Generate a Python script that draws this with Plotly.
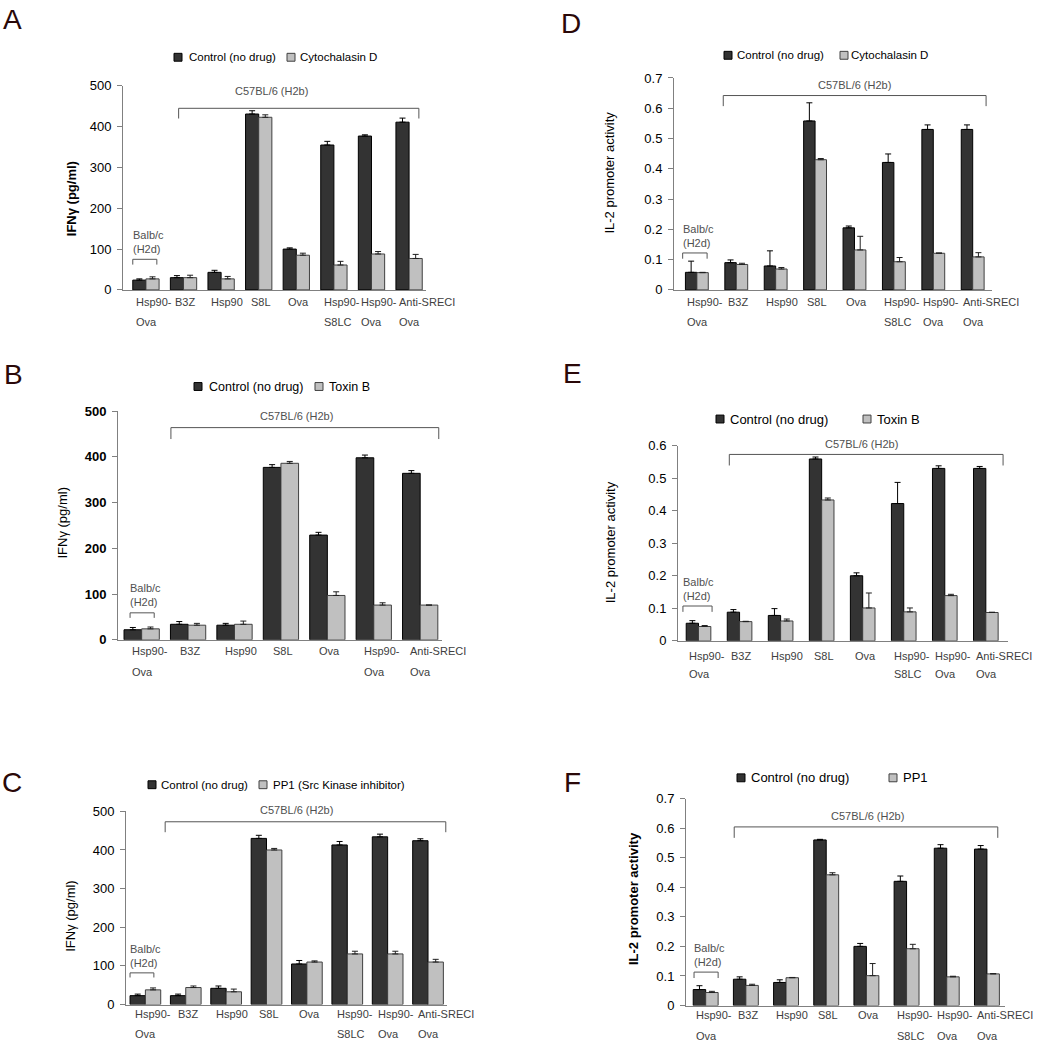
import plotly.graph_objects as go

W, H = 1039, 1050

# ---------------- data ----------------
cat_row1 = ["Hsp90-", "B3Z", "Hsp90", "S8L", "Ova", "Hsp90-", "Hsp90-", "Anti-SRECI"]
cat_row2 = ["Ova", "", "", "", "", "S8LC", "Ova", "Ova"]
cat_row1_B = ["Hsp90-", "B3Z", "Hsp90", "S8L", "Ova", "Hsp90-", "Anti-SRECI"]
cat_row2_B = ["Ova", "", "", "", "", "Ova", "Ova"]

A_ctrl = [24, 30, 43, 431, 100, 355, 377, 411]
A_ctrl_err = [3, 5, 5, 8, 3, 9, 3, 10]
A_drug = [27, 30, 27, 423, 85, 61, 88, 77]
A_drug_err = [5, 6, 6, 6, 5, 9, 6, 10]

D_ctrl = [0.058, 0.090, 0.079, 0.558, 0.205, 0.421, 0.530, 0.530]
D_ctrl_err = [0.037, 0.009, 0.050, 0.060, 0.006, 0.028, 0.015, 0.015]
D_drug = [0.057, 0.084, 0.069, 0.430, 0.132, 0.093, 0.121, 0.109]
D_drug_err = [0.001, 0.004, 0.005, 0.004, 0.045, 0.014, 0.001, 0.014]

B_ctrl = [22, 34, 32, 377, 229, 398, 364]
B_ctrl_err = [5, 6, 4, 6, 6, 6, 6]
B_drug = [24, 32, 34, 386, 97, 76, 76]
B_drug_err = [4, 4, 7, 4, 8, 5, 0]

E_ctrl = [0.054, 0.088, 0.078, 0.559, 0.200, 0.422, 0.530, 0.530]
E_ctrl_err = [0.008, 0.008, 0.021, 0.006, 0.009, 0.065, 0.008, 0.006]
E_drug = [0.044, 0.059, 0.061, 0.433, 0.101, 0.089, 0.139, 0.087]
E_drug_err = [0.003, 0.001, 0.006, 0.006, 0.046, 0.012, 0.004, 0.001]

C_ctrl = [23, 23, 42, 430, 105, 413, 434, 424]
C_ctrl_err = [4, 4, 6, 8, 9, 9, 7, 5]
C_drug = [38, 44, 33, 400, 110, 131, 131, 110]
C_drug_err = [5, 4, 7, 4, 3, 7, 7, 7]

F_ctrl = [0.054, 0.089, 0.078, 0.560, 0.200, 0.420, 0.532, 0.529]
F_ctrl_err = [0.013, 0.008, 0.009, 0.002, 0.010, 0.018, 0.012, 0.012]
F_drug = [0.044, 0.068, 0.094, 0.442, 0.101, 0.192, 0.097, 0.107]
F_drug_err = [0.004, 0.004, 0.001, 0.007, 0.041, 0.015, 0.002, 0.001]

legend_ctrl = "Control (no drug)"
legend_drug_A = "Cytochalasin D"
legend_drug_D = "Cytochalasin D"
legend_drug_B = "Toxin B"
legend_drug_E = "Toxin B"
legend_drug_C = "PP1 (Src Kinase inhibitor)"
legend_drug_F = "PP1"

ytitle_ifn = "IFNγ (pg/ml)"
ytitle_il2 = "IL-2 promoter activity"
strain_b6 = "C57BL/6 (H2b)"
strain_balb = "Balb/c<br>(H2d)"

# ---------------- styles ----------------
FONT = "Liberation Sans, Arial, sans-serif"
DARK = "#333333"
LIGHT = "#c0c0c0"
AXC = "#808080"
LABEL_FS = 11

CHAR_W = {"H": 722, "s": 500, "p": 556, "-": 333, "B": 667, "Z": 611, "S": 667, "L": 556,
          "O": 778, "v": 500, "a": 556, "A": 667, "n": 556, "t": 278, "i": 222, "R": 722,
          "E": 667, "C": 722, "I": 278}

def est_width(s, fs):
    return sum(CHAR_W.get(ch, 556) for ch in s) * fs / 1000.0

def px(x):
    return x / W

def py(y):
    return 1 - y / H

panels = [
    dict(key="A", letter_xy=(12, 13), row1=cat_row1, row2=cat_row2,
         ctrl=A_ctrl, ctrl_err=A_ctrl_err, drug=A_drug, drug_err=A_drug_err,
         dom_x=(123, 426), y0=287, ytop=80, ymax=500, dtick=100, xr=(-0.61, 7.45), bw=0.35,
         lab_y=(299, 320), ytitle=ytitle_ifn, ytitle_xy=(71, 195), ytitle_bold=True, tick_bold=False,
         legend=[(174, 187, legend_ctrl), (287, 298, legend_drug_A)], leg_y=51, leg_fs=11.5,
         b6=(0.87, 7.26, 445, 420), b6_text=(271, 85), balb=(-0.35, 0.29, 75, 62), balb_text=(231, 245)),
    dict(key="D", letter_xy=(571, 17), row1=cat_row1, row2=cat_row2,
         ctrl=D_ctrl, ctrl_err=D_ctrl_err, drug=D_drug, drug_err=D_drug_err,
         dom_x=(674, 992), y0=287, ytop=72, ymax=0.7, dtick=0.1, xr=(-0.58, 7.49), bw=0.29,
         lab_y=(299, 320), ytitle=ytitle_il2, ytitle_xy=(610, 168), ytitle_bold=False, tick_bold=False,
         legend=[(724, 735, legend_ctrl), (840, 849, legend_drug_D)], leg_y=49, leg_fs=11.5,
         b6=(0.67, 7.34, 0.642, 0.607), b6_text=(854, 79), balb=(-0.36, 0.26, 0.122, 0.103), balb_text=(225, 239)),
    dict(key="B", letter_xy=(13, 373), row1=cat_row1_B, row2=cat_row2_B,
         ctrl=B_ctrl, ctrl_err=B_ctrl_err, drug=B_drug, drug_err=B_drug_err,
         dom_x=(118, 442), y0=642, ytop=410, ymax=500, dtick=100, xr=(-0.51, 6.47), bw=0.38,
         lab_y=(653, 675), ytitle=ytitle_ifn, ytitle_xy=(63, 523), ytitle_bold=False, tick_bold=True,
         legend=[(194, 207, legend_ctrl), (315, 327, legend_drug_B)], leg_y=385, leg_fs=12.5,
         b6=(0.63, 6.4, 464, 439), b6_text=(296, 415), balb=(-0.25, 0.27, 59, 48), balb_text=(590, 604)),
    dict(key="E", letter_xy=(572, 372), row1=cat_row1, row2=cat_row2,
         ctrl=E_ctrl, ctrl_err=E_ctrl_err, drug=E_drug, drug_err=E_drug_err,
         dom_x=(678, 1008), y0=643, ytop=445, ymax=0.6, dtick=0.1, xr=(-0.5, 7.54), bw=0.30,
         lab_y=(658, 677), ytitle=ytitle_il2, ytitle_xy=(610, 543), ytitle_bold=False, tick_bold=False,
         legend=[(716, 728, legend_ctrl), (863, 875, legend_drug_E)], leg_y=418, leg_fs=13,
         b6=(0.75, 7.42, 0.573, 0.539), b6_text=(861, 443), balb=(-0.38, 0.33, 0.107, 0.089), balb_text=(583, 597)),
    dict(key="C", letter_xy=(12, 787), row1=cat_row1, row2=cat_row2,
         ctrl=C_ctrl, ctrl_err=C_ctrl_err, drug=C_drug, drug_err=C_drug_err,
         dom_x=(126, 447), y0=1012, ytop=816, ymax=500, dtick=100, xr=(-0.48, 7.47), bw=0.38,
         lab_y=(1022, 1042), ytitle=ytitle_ifn, ytitle_xy=(71, 922), ytitle_bold=False, tick_bold=False,
         legend=[(148, 159, legend_ctrl), (259, 271, legend_drug_C)], leg_y=789, leg_fs=11.5,
         b6=(0.49, 7.44, 473, 446), b6_text=(296, 815), balb=(-0.38, 0.21, 82, 70), balb_text=(956, 969)),
    dict(key="F", letter_xy=(572, 787), row1=cat_row1, row2=cat_row2,
         ctrl=F_ctrl, ctrl_err=F_ctrl_err, drug=F_drug, drug_err=F_drug_err,
         dom_x=(686, 1005), y0=1013, ytop=803, ymax=0.7, dtick=0.1, xr=(-0.49, 7.45), bw=0.31,
         lab_y=(1023, 1044), ytitle=ytitle_il2, ytitle_xy=(633, 905), ytitle_bold=True, tick_bold=False,
         legend=[(737, 749, legend_ctrl), (889, 901, legend_drug_F)], leg_y=782, leg_fs=13,
         b6=(0.71, 7.27, 0.604, 0.567), b6_text=(867, 821), balb=(-0.29, 0.31, 0.113, 0.093), balb_text=(955, 968)),
]

fig = go.Figure()
annotations = []
shapes = []
layout_axes = {}

for i, p in enumerate(panels):
    n = i + 1
    xa = "x" if n == 1 else f"x{n}"
    ya = "y" if n == 1 else f"y{n}"
    xs = list(range(len(p["row1"])))
    bw = p["bw"]
    fig.add_trace(go.Bar(
        x=xs, y=p["ctrl"], width=bw, offset=-bw, xaxis=xa, yaxis=ya,
        marker=dict(color=DARK, line=dict(color="#000000", width=1)),
        error_y=dict(type="data", array=p["ctrl_err"], arrayminus=[0] * len(xs), symmetric=False,
                     color="#000000", thickness=1, width=3),
        name=legend_ctrl, showlegend=False))
    fig.add_trace(go.Bar(
        x=xs, y=p["drug"], width=bw, offset=0, xaxis=xa, yaxis=ya,
        marker=dict(color=LIGHT, line=dict(color="#404040", width=1)),
        error_y=dict(type="data", array=p["drug_err"], arrayminus=[0] * len(xs), symmetric=False,
                     color="#202020", thickness=1, width=3),
        name=p["legend"][1][2], showlegend=False))

    xkey = "xaxis" if n == 1 else f"xaxis{n}"
    ykey = "yaxis" if n == 1 else f"yaxis{n}"
    layout_axes[xkey] = dict(domain=[px(p["dom_x"][0]), px(p["dom_x"][1])], anchor=ya,
                             range=list(p["xr"]), showgrid=False, zeroline=False,
                             showline=True, linecolor=AXC, linewidth=1, ticks="",
                             showticklabels=False, fixedrange=True)
    tfont = dict(family=FONT, size=13, color="#000000")
    if p["tick_bold"]:
        tfont["weight"] = "bold"
    layout_axes[ykey] = dict(domain=[py(p["y0"]), py(p["ytop"])], anchor=xa,
                             range=[0, p["ymax"]], dtick=p["dtick"], tick0=0,
                             showgrid=False, zeroline=False, showline=True, linecolor=AXC,
                             linewidth=1, ticks="outside", ticklen=5, tickcolor=AXC,
                             tickfont=tfont, ticklabelstandoff=3, fixedrange=True)

    # category labels (two rows, left-aligned block near the category centre)
    for j, (r1, r2) in enumerate(zip(p["row1"], p["row2"])):
        w1 = est_width(r1, LABEL_FS)
        shift = -min(w1 / 2.0, 12.0)
        annotations.append(dict(x=j, xref=xa, y=py(p["lab_y"][0]), yref="paper", text=r1,
                                xanchor="left", yanchor="middle", xshift=shift, showarrow=False,
                                font=dict(family=FONT, size=LABEL_FS, color="#404040")))
        if r2:
            annotations.append(dict(x=j, xref=xa, y=py(p["lab_y"][1]), yref="paper", text=r2,
                                    xanchor="left", yanchor="middle", xshift=shift, showarrow=False,
                                    font=dict(family=FONT, size=LABEL_FS, color="#404040")))

    # panel letter
    annotations.append(dict(x=px(p["letter_xy"][0]), y=py(p["letter_xy"][1]), xref="paper", yref="paper",
                            text=p["key"], showarrow=False, xanchor="center", yanchor="middle",
                            font=dict(family=FONT, size=28, color="#2a0808")))

    # y title
    ytf = dict(family=FONT, size=13, color="#000000")
    if p["ytitle_bold"]:
        ytf["weight"] = "bold"
    annotations.append(dict(x=px(p["ytitle_xy"][0]), y=py(p["ytitle_xy"][1]), xref="paper", yref="paper",
                            text=p["ytitle"], textangle=-90, showarrow=False,
                            xanchor="center", yanchor="middle", font=ytf))

    # legend (manual swatches)
    for k, (sqx, tx, label) in enumerate(p["legend"]):
        col = DARK if k == 0 else LIGHT
        lc = "#000000" if k == 0 else "#404040"
        shapes.append(dict(type="rect", xref="paper", yref="paper",
                           x0=px(sqx), x1=px(sqx + 8), y0=py(p["leg_y"] + 4), y1=py(p["leg_y"] - 4),
                           fillcolor=col, line=dict(color=lc, width=1)))
        annotations.append(dict(x=px(tx), y=py(p["leg_y"]), xref="paper", yref="paper", text=label,
                                showarrow=False, xanchor="left", yanchor="middle",
                                font=dict(family=FONT, size=p["leg_fs"], color="#000000")))

    # brackets
    for (bx0, bx1, bl, bt) in (p["b6"], p["balb"]):
        shapes.append(dict(type="path", xref=xa, yref=ya,
                           path=f"M {bx0},{bt} L {bx0},{bl} L {bx1},{bl} L {bx1},{bt}",
                           line=dict(color="#555555", width=1)))
    annotations.append(dict(x=px(p["b6_text"][0]), y=py(p["b6_text"][1]), xref="paper", yref="paper",
                            text=strain_b6, showarrow=False, xanchor="center", yanchor="middle",
                            font=dict(family=FONT, size=11, color="#505050")))
    bx0 = p["balb"][0]
    annotations.append(dict(x=bx0, xref=xa, y=py((p["balb_text"][0] + p["balb_text"][1]) / 2), yref="paper",
                            text=strain_balb, showarrow=False, xanchor="left", yanchor="middle",
                            align="left", xshift=-2,
                            font=dict(family=FONT, size=11, color="#505050")))

fig.update_layout(
    width=W, height=H, margin=dict(l=0, r=0, t=0, b=0),
    paper_bgcolor="white", plot_bgcolor="white",
    barmode="overlay", showlegend=False,
    annotations=annotations, shapes=shapes, **layout_axes)

fig.write_html("out.html",
               config={"displayModeBar": False},
               post_script="document.body.style.margin='0';document.body.style.overflow='hidden';")
